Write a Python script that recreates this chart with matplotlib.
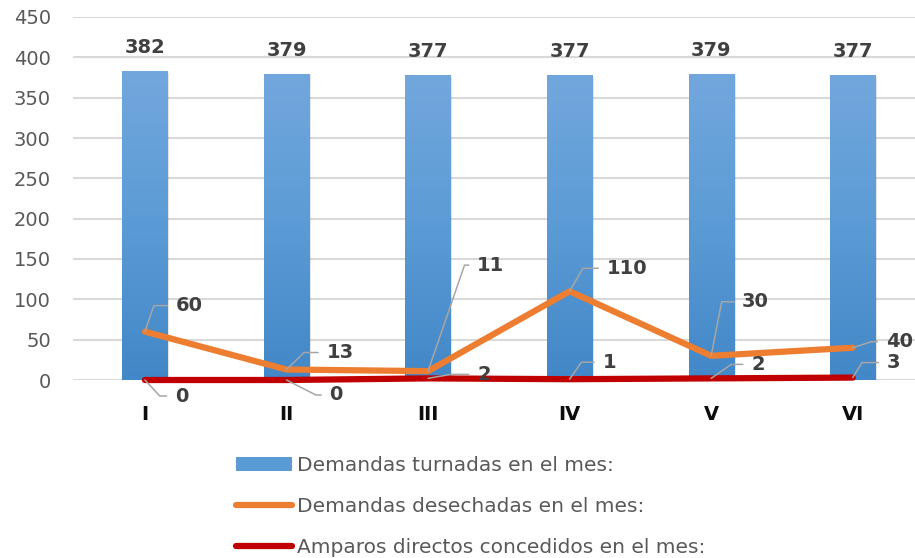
import matplotlib
matplotlib.use("Agg")
import matplotlib.pyplot as plt
import numpy as np
from matplotlib.colors import LinearSegmentedColormap
from matplotlib.lines import Line2D
from matplotlib.patches import Patch

# Datos del gráfico
meses = ["I", "II", "III", "IV", "V", "VI"]
turnadas = [382, 379, 377, 377, 379, 377]
desechadas = [60, 13, 11, 110, 30, 40]
amparos = [0, 0, 2, 1, 2, 3]
etiquetas = ["Demandas turnadas en el mes:",
             "Demandas desechadas en el mes:",
             "Amparos directos concedidos en el mes:"]

# posicion de las etiquetas (desplazamiento en pixeles, angulo de la guia)
pos_desechadas = [(31, 26, 71), (40, 17, 44), (49, 106, 71),
                  (37, 23, 60), (31, 54, 79), (33, 6, 18)]
pos_amparos = [(30, -16, -47), (43, -15, -27), (49, 4, 10),
               (33, 17, 55), (40, 14, 35), (34, 15, 58)]

plt.rcParams['font.family'] = ['DejaVu Sans']

fig = plt.figure(figsize=(9.15, 5.58), dpi=100)
ax = fig.add_axes([73/915, 1-380/558, 1-73/915, 363/558])

x = np.arange(len(meses))
ancho = 0.32

# barras con degradado
azul = LinearSegmentedColormap.from_list("azul", ["#4287c7", "#5b9bd5", "#72a7dd"])
barras = ax.bar(x, turnadas, width=ancho, color="none", zorder=2)
grad = np.linspace(0, 1, 256).reshape(-1, 1)
for b in barras:
    x0, w, h = b.get_x(), b.get_width(), b.get_height()
    # sombra
    ax.bar(x0 + w/2 + 0.012, h, width=w, bottom=-1.5, color="#000000", alpha=0.10, zorder=1.5)
    ax.imshow(grad, extent=[x0, x0 + w, 0, h], origin="lower", aspect="auto",
              cmap=azul, zorder=2)

ax.plot(x, desechadas, color="#ED7D31", lw=4.5, solid_capstyle="round",
        solid_joinstyle="round", zorder=4, clip_on=False)
ax.plot(x, amparos, color="#C00000", lw=4.5, solid_capstyle="round",
        solid_joinstyle="round", zorder=5, clip_on=False)

gris = "#404040"
for xi, v in zip(x, turnadas):
    ax.annotate(str(v), (xi, v), xytext=(0, 24), textcoords="offset pixels",
                ha="center", va="center", fontsize=14, fontweight="bold", color=gris)

def etiqueta(xi, v, dx, dy, ang):
    ax.annotate(str(v), (xi, v), xytext=(dx, dy), textcoords="offset pixels",
                ha="left", va="center", fontsize=14, fontweight="bold", color=gris,
                zorder=6,
                arrowprops=dict(arrowstyle="-", color="#a6a6a6", lw=1.1,
                                connectionstyle="angle,angleA=0,angleB=%d,rad=0" % ang,
                                relpos=(0, 0.5), shrinkA=4, shrinkB=0))

for xi, v, (dx, dy, ang) in zip(x, desechadas, pos_desechadas):
    etiqueta(xi, v, dx, dy, ang)
for xi, v, (dx, dy, ang) in zip(x, amparos, pos_amparos):
    etiqueta(xi, v, dx, dy, ang)

ax.set_xlim(-0.508, 5.44)
ax.set_ylim(0, 450)
ax.set_yticks(np.arange(0, 451, 50))
ax.set_xticks(x)
ax.set_xticklabels(meses, fontsize=14, fontweight="bold", color="#0d0d0d")
ax.tick_params(axis="y", length=0, pad=16, labelsize=14, labelcolor="#595959")
ax.tick_params(axis="x", length=0, pad=18)
ax.grid(axis="y", color="#d9d9d9", lw=1.5, zorder=0)
ax.set_axisbelow(True)
for s in ax.spines.values():
    s.set_visible(False)

handles = [Patch(facecolor="#5b9bd5", edgecolor="none"),
           Line2D([], [], color="#ED7D31", lw=4.5, solid_capstyle="round"),
           Line2D([], [], color="#C00000", lw=4.5, solid_capstyle="round")]
fig.legend(handles, etiquetas, loc="upper left", bbox_to_anchor=(236/915, 1-456/558),
           frameon=False, fontsize=14.5, labelcolor="#595959", handlelength=2.8,
           handletextpad=0.25, labelspacing=1.1, borderpad=0, borderaxespad=0)

fig.savefig("out.png", dpi=100)
